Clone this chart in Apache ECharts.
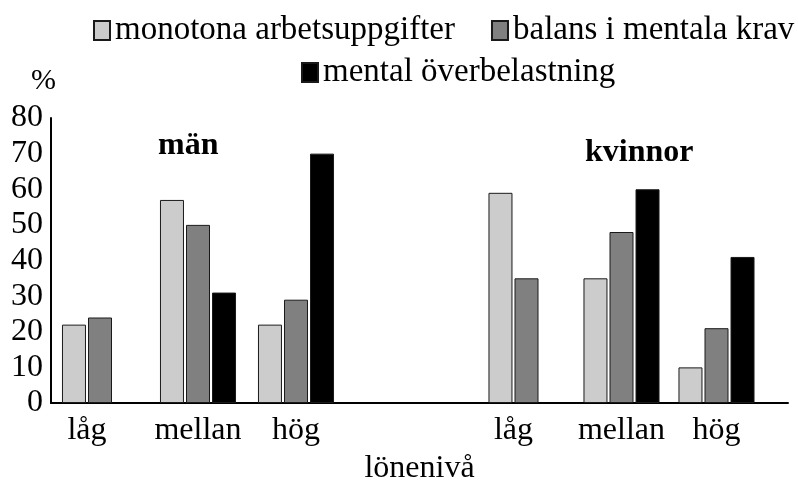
<!DOCTYPE html>
<html>
<head>
<meta charset="utf-8">
<script src="https://cdn.jsdelivr.net/npm/echarts@6/dist/echarts.min.js"></script>
<style>
  html, body { margin: 0; padding: 0; background: #fff; }
  #chart { width: 798px; height: 482px; }
</style>
</head>
<body>
<div id="chart"></div>
<script>
// lönenivå per grupp
const categories = ['låg', 'mellan', 'hög']
const seriesNames = ['monotona arbetsuppgifter', 'balans i mentala krav', 'mental överbelastning']

// män
const manMonotona = [22, 57, 22]
const manBalans = [24, 50, 29]
const manOverbelastning = [null, 31, 70]

// kvinnor
const kvinnorMonotona = [59, 35, 10]
const kvinnorBalans = [35, 48, 21]
const kvinnorOverbelastning = [null, 60, 41]

const yTicks = { min: 0, max: 80, interval: 10 }

const font = 'Liberation Serif, Times New Roman, serif'
const colors = ['#cccccc', '#808080', '#000000']

function catData() {
    // låg has only two bars, so its label sits a bit to the left
    return categories.map((c, i) => i === 0 ? { value: c, textStyle: { padding: [0, 26, 0, 0] } } : c)
}

function bars(name, data, idx, axis) {
    return {
        type: 'bar',
        name: name,
        data: data,
        xAxisIndex: axis,
        yAxisIndex: axis,
        barWidth: 24,
        barGap: '8.4%',
        itemStyle: { color: colors[idx], borderColor: '#1a1a1a', borderWidth: 1 },
    }
}

const gridBase = { top: 118, bottom: 79, outerBoundsMode: 'none', containLabel: false }

const options = {
    animation: false,
    backgroundColor: '#fff',
    textStyle: { fontFamily: font, color: '#000' },
    grid: [
        { ...gridBase, left: 51, right: 10 },
        { ...gridBase, left: 51, width: 294 },
        { ...gridBase, left: 479, width: 285 },
    ],
    legend: [
        {
            data: seriesNames.slice(0, 2),
            left: 88, top: 9, width: 710,
            itemWidth: 16, itemHeight: 19, itemGap: 36,
            icon: 'rect',
            textStyle: { fontSize: 33, fontFamily: font, color: '#000' },
        },
        {
            data: seriesNames.slice(2),
            left: 296, top: 51,
            itemWidth: 16, itemHeight: 19,
            icon: 'rect',
            textStyle: { fontSize: 33, fontFamily: font, color: '#000' },
        },
    ],
    xAxis: [
        {
            type: 'category', gridIndex: 0, data: [''],
            axisLine: { lineStyle: { color: '#000', width: 2 } },
            axisTick: { show: false }, axisLabel: { show: false },
            name: 'lönenivå', nameLocation: 'middle', nameGap: 50,
            nameTextStyle: { fontSize: 32, fontFamily: font, color: '#000' },
        },
        {
            type: 'category', gridIndex: 1, data: catData(),
            axisLine: { show: false }, axisTick: { show: false },
            axisLabel: { fontSize: 32, fontFamily: font, color: '#000', margin: 12, interval: 0 },
        },
        {
            type: 'category', gridIndex: 2, data: catData(),
            axisLine: { show: false }, axisTick: { show: false },
            axisLabel: { fontSize: 32, fontFamily: font, color: '#000', margin: 12, interval: 0 },
        },
    ],
    yAxis: [
        {
            type: 'value', gridIndex: 0, ...yTicks,
            axisLine: { show: true, lineStyle: { color: '#000', width: 2 } },
            axisTick: { show: false }, splitLine: { show: false },
            axisLabel: { fontSize: 32, fontFamily: font, color: '#000', margin: 8 },
        },
        { type: 'value', gridIndex: 1, ...yTicks, show: false },
        { type: 'value', gridIndex: 2, ...yTicks, show: false },
    ],
    graphic: [
        { type: 'text', left: 31, top: 66, style: { text: '%', font: '30px ' + font, fill: '#000' } },
        { type: 'text', left: 158, top: 130, style: { text: 'män', font: 'bold 32px ' + font, fill: '#000' } },
        { type: 'text', left: 585, top: 137, style: { text: 'kvinnor', font: 'bold 32px ' + font, fill: '#000' } },
    ],
    series: [
        bars(seriesNames[0], manMonotona, 0, 1),
        bars(seriesNames[1], manBalans, 1, 1),
        bars(seriesNames[2], manOverbelastning, 2, 1),
        bars(seriesNames[0], kvinnorMonotona, 0, 2),
        bars(seriesNames[1], kvinnorBalans, 1, 2),
        bars(seriesNames[2], kvinnorOverbelastning, 2, 2),
    ],
}

echarts.init(document.getElementById('chart')).setOption(options)
</script>
</body>
</html>
